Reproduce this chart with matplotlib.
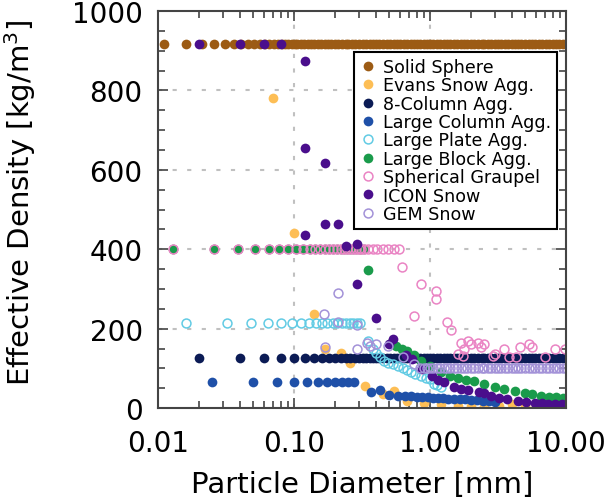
import matplotlib
matplotlib.use('Agg')
import matplotlib.pyplot as plt
from matplotlib.ticker import FixedLocator, MultipleLocator, LogLocator, NullFormatter

# Значения: диаметр [мм], эффективная плотность [кг/м3]
band_d = [0.30, 0.32, 0.34, 0.36, 0.38, 0.40, 0.42, 0.45, 0.48, 0.51, 0.54, 0.57,
          0.60, 0.64, 0.68, 0.72, 0.76, 0.80, 0.85, 0.90, 0.95, 1.0, 1.06, 1.12,
          1.19, 1.26, 1.33, 1.41, 1.5, 1.59, 1.68, 1.78, 1.88, 2.0, 2.1, 2.25,
          2.4, 2.5, 2.65, 2.8, 3.0, 3.15, 3.35, 3.55, 3.75, 4.0, 4.2, 4.45, 4.7,
          5.0, 5.3, 5.6, 5.95, 6.3, 6.7, 7.1, 7.5, 7.95, 8.4, 8.9, 9.45, 10.0]

sphere_d = [0.011, 0.016, 0.021, 0.026, 0.031, 0.036, 0.041, 0.046, 0.051, 0.056,
            0.061, 0.066, 0.071, 0.076, 0.081, 0.086, 0.091, 0.096, 0.101, 0.106,
            0.112, 0.119, 0.126, 0.133, 0.141, 0.15, 0.159, 0.168, 0.178, 0.188,
            0.2, 0.21, 0.225, 0.24, 0.25, 0.265, 0.28] + band_d
sphere_rho = [917] * len(sphere_d)

evans_d = [0.07, 0.10, 0.14, 0.17, 0.22, 0.26, 0.33, 0.45, 0.54, 0.68, 0.9, 1.2,
           1.6, 2.0, 2.5, 3.2, 4.0, 5.0, 6.0, 7.5, 9.0]
evans_rho = [781, 441, 237, 148, 138, 113, 56, 35, 44, 18, 14, 10,
             6, 5, 5, 6, 10, 6, 5, 5, 5]

col8_d = [0.02, 0.04, 0.06, 0.08, 0.10, 0.12, 0.14, 0.16, 0.18, 0.20, 0.22,
          0.24, 0.26, 0.28] + band_d
col8_rho = [125] * len(col8_d)

lcol_d = [0.025, 0.05, 0.075, 0.1, 0.125, 0.15, 0.175, 0.2, 0.225, 0.25, 0.275,
          0.37, 0.43, 0.5, 0.58, 0.65, 0.72, 0.8, 0.88, 0.96, 1.05, 1.15, 1.25,
          1.35, 1.5, 1.65, 1.8, 2.0, 2.2, 2.45, 2.7, 3.0]
lcol_rho = [65, 65, 65, 65, 65, 65, 65, 65, 65, 65, 65,
            40, 45, 33, 31, 30, 30, 28, 27, 27, 26, 25, 25,
            24, 23, 23, 22, 21, 20, 18, 17, 15]

plate_d = [0.016, 0.032, 0.048, 0.064, 0.080, 0.096, 0.112, 0.128, 0.144, 0.160,
           0.176, 0.192, 0.208, 0.224, 0.240, 0.256, 0.272, 0.288, 0.304,
           0.35, 0.38, 0.40, 0.43, 0.46, 0.49, 0.53, 0.58, 0.63, 0.68, 0.72,
           0.78, 0.86, 0.93, 1.0, 1.07, 1.13, 1.2]
plate_rho = [214] * 19 + [168, 150, 140, 128, 119, 113, 110, 107, 100, 95, 90,
                          85, 81, 77, 73, 62, 58, 52]

block_d = [0.013, 0.026, 0.039, 0.052, 0.065, 0.078, 0.091, 0.104, 0.117, 0.130,
           0.143, 0.156, 0.169, 0.182, 0.195, 0.208, 0.221, 0.234, 0.247, 0.260,
           0.273, 0.286, 0.299, 0.312, 0.325,
           0.35, 0.52, 0.56, 0.62, 0.68, 0.76, 0.86, 1.0, 1.2, 1.4, 1.6, 1.85,
           2.1, 2.5, 3.0, 3.5, 4.2, 5.0, 5.6, 6.5, 7.5, 8.5, 9.5]
block_rho = [400] * 25 + [348, 165, 157, 150, 144, 135, 119, 105, 90, 82, 77, 72,
                          69, 60, 52, 48, 42, 38, 35, 31, 29, 27, 26]

graupel_d = block_d[:25] + [0.35, 0.38, 0.41, 0.45, 0.49, 0.54, 0.59,
                            0.62, 0.76, 0.86, 1.1, 1.1, 1.34, 1.42,
                            1.6, 1.69, 1.74, 1.79, 1.89, 2.0, 2.25, 2.37, 2.5,
                            2.9, 3.0, 3.5, 3.8, 4.3, 4.6, 5.3, 5.6, 7.0, 8.3, 9.9]
graupel_rho = [400] * 25 + [400, 400, 400, 400, 400, 400, 400,
                            356, 232, 312, 296, 276, 217, 197,
                            136, 165, 132, 150, 170, 161, 165, 153, 161,
                            132, 136, 149, 128, 128, 153, 161, 153, 128, 149, 149]

icon_d = [0.02, 0.04, 0.06, 0.08, 0.12, 0.12, 0.12, 0.17, 0.17, 0.21, 0.24,
          0.29, 0.29, 0.40, 0.50, 0.53, 0.67, 0.74, 0.88, 1.04, 1.15, 1.27,
          1.5, 1.7, 1.9, 2.3, 2.5, 2.8, 3.2, 3.7, 4.4, 5.1, 5.9, 6.6, 7.4,
          8.3, 9.3]
icon_rho = [917, 917, 917, 917, 873, 655, 437, 617, 463, 463, 409,
            413, 312, 228, 161, 174, 133, 123, 98, 81, 72, 65,
            52, 48, 45, 40, 37, 31, 26, 22, 18, 16, 14, 12, 10,
            10, 10]

gem_d = [0.165, 0.17, 0.21, 0.21, 0.29, 0.29, 0.345, 0.36, 0.40, 0.49, 0.63,
         0.76] + band_d[18:]
gem_rho = [237, 155, 291, 216, 209, 150, 165, 157, 161, 157, 128,
           111] + [101] * len(band_d[18:])

series = [
    (sphere_d, sphere_rho, '#9C5B14', 'Solid Sphere', False),
    (evans_d, evans_rho, '#FDBE55', 'Evans Snow Agg.', False),
    (col8_d, col8_rho, '#0B1B55', '8-Column Agg.', False),
    (lcol_d, lcol_rho, '#1F50A8', 'Large Column Agg.', False),
    (plate_d, plate_rho, '#62CBE4', 'Large Plate Agg.', True),
    (block_d, block_rho, '#1A9B4B', 'Large Block Agg.', False),
    (graupel_d, graupel_rho, '#EA84C4', 'Spherical Graupel', True),
    (icon_d, icon_rho, '#4A0E8C', 'ICON Snow', False),
    (gem_d, gem_rho, '#A392D8', 'GEM Snow', True),
]

fig = plt.figure(figsize=(6.1, 5.02), dpi=100)
ax = fig.add_axes([0.259, 0.185, 0.669, 0.791])

for d, rho, color, label, hollow in series:
    if hollow:
        ax.plot(d, rho, 'o', ms=6.4, mfc='none', mec=color, mew=1.1, label=label)
    else:
        ax.plot(d, rho, 'o', ms=7.0, mfc=color, mec=color, mew=0, label=label)

ax.set_xscale('log')
ax.set_xlim(0.01, 10)
ax.set_ylim(0, 1000)

ax.xaxis.set_major_locator(FixedLocator([0.01, 0.1, 1, 10]))
ax.set_xticklabels(['0.01', '0.10', '1.00', '10.00'])
ax.xaxis.set_minor_locator(LogLocator(base=10, subs=range(2, 10)))
ax.xaxis.set_minor_formatter(NullFormatter())
ax.yaxis.set_major_locator(MultipleLocator(200))
ax.yaxis.set_minor_locator(MultipleLocator(50))

ax.tick_params(which='both', direction='in', top=True, right=True,
               color='#444444', width=1.2)
ax.tick_params(which='major', length=7, labelsize=20, pad=11)
ax.tick_params(which='minor', length=5)
ax.tick_params(axis='x', which='major', pad=15)
ax.yaxis.get_major_ticks()[0].label1.set_verticalalignment('bottom')

for s in ax.spines.values():
    s.set_color('#444444')
    s.set_linewidth(1.5)

for v in [0.1, 1]:
    ax.axvline(v, color='#C0C0C0', lw=1.5, ls=(0, (2, 5)), zorder=0)
for v in [200, 400, 600, 800]:
    ax.axhline(v, color='#C0C0C0', lw=1.5, ls=(0, (2, 5)), zorder=0)

ax.set_xlabel('Particle Diameter [mm]', fontsize=21)
ax.set_ylabel('Effective Density [kg/m$^3$]', fontsize=21)
ax.xaxis.set_label_coords(0.5, -0.155)
ax.yaxis.set_label_coords(-0.295, 0.52)

leg = ax.legend(loc='upper right', bbox_to_anchor=(0.978, 0.897), borderaxespad=0,
                fontsize=12.6, handlelength=0.9, handletextpad=0.4,
                labelspacing=0.02, borderpad=0.35, fancybox=False,
                framealpha=1, edgecolor='black')
leg.get_frame().set_linewidth(1.5)

plt.savefig('out.png', dpi=100)
